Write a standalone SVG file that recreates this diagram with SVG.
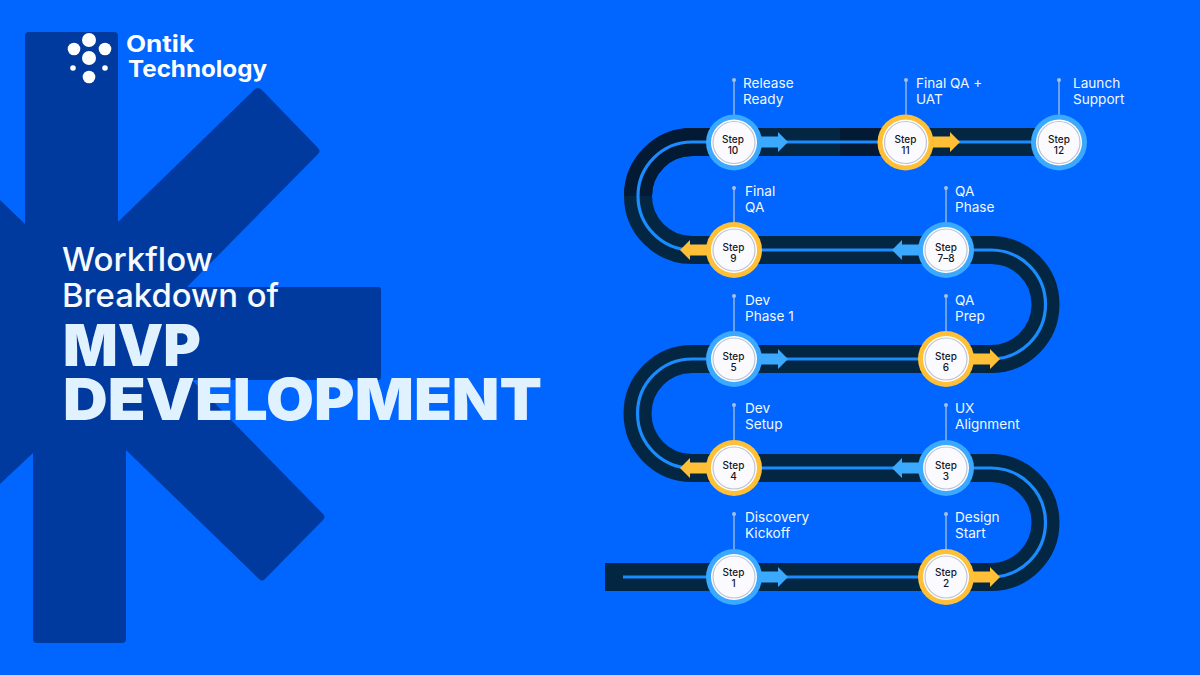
<svg xmlns="http://www.w3.org/2000/svg" xmlns:xlink="http://www.w3.org/1999/xlink" width="1200" height="675" viewBox="0 0 1200 675">
<style>
.road{fill:none;stroke:#032743;stroke-width:28}
.dark{fill:none;stroke:#021a33;stroke-width:28}
.line{fill:none;stroke:#1a8cff;stroke-width:3.2}
.lbl{font:400 13.6px Inter,"Open Sans",sans-serif;fill:#f2f8ff}
.st{font:500 10px Inter,"Open Sans",sans-serif;fill:#16161e;text-anchor:middle}
.pin{stroke:#8fb4ea;stroke-width:1.5}
.dot{fill:#a9c0e2}
.w{fill:#fff}
.ring{fill:#fbfbff;stroke:#bcc3d2;stroke-width:1.2}
.ttl{font:500 32px Inter,"Open Sans",sans-serif;fill:#f6faff}
.big{font:900 58px Inter,"Open Sans",sans-serif;fill:#e0f1ff}
.logo{font:700 23px Inter,"Open Sans",sans-serif;fill:#fff}
</style>
<defs>
<g id="b"><circle r="28" fill="#3aa9ff"/></g>
<g id="y"><circle r="28" fill="#ffc038"/></g>
<g id="c"><circle r="23" class="w"/><circle r="21" class="ring"/></g>
<path id="ar" d="M0-5.500H17V-10L27 0L17 10V5.500H0Z"/>
</defs>
<rect width="1200" height="675" fill="#0066ff"/>
<path id="bg-k" d="M25 36Q25 32 29 32H114Q118 32 118 36V222L254 90Q258 86 262 90L318 148Q321 151 318 154L187 287H378Q381 287 381 290V377Q381 380 378 380H192L323 514Q326 517 323 520L265 579Q262 582 259 579L126 450V639Q126 643 122 643H37Q33 643 33 639V453L0 484V200L25 224Z" fill="#003a9e"/>
<g id="connectors">
<path class="road" d="M605 577H991A54.500 54.500 0 0 0 991 468H692A54.500 54.500 0 0 1 692 359H991A54.500 54.500 0 0 0 991 250H692A54 54 0 0 1 692 142H1058"/>
<path class="dark" d="M638 196A54 54 0 0 1 692 142H760M840 142H885"/>
<path class="line" d="M623 577H991A54.500 54.500 0 0 0 991 468H692A54.500 54.500 0 0 1 692 359H991A54.500 54.500 0 0 0 991 250H692A54 54 0 0 1 692 142H1058"/>
<g fill="#3aa9ff">
<use href="#ar" x="761" y="577"/><use href="#ar" x="761" y="359"/><use href="#ar" x="761" y="142"/>
<use href="#ar" transform="translate(919 468) scale(-1 1)"/><use href="#ar" transform="translate(919 250) scale(-1 1)"/>
</g>
<g fill="#ffc038">
<use href="#ar" x="973" y="577"/><use href="#ar" x="973" y="359"/><use href="#ar" x="933" y="142"/>
<use href="#ar" transform="translate(707 468) scale(-1 1)"/><use href="#ar" transform="translate(707 250) scale(-1 1)"/>
</g>
</g>
<g id="title"><text class="ttl" x="62" y="271" textLength="151" lengthAdjust="spacingAndGlyphs">Workflow</text><text class="ttl" x="62" y="307" textLength="217" lengthAdjust="spacingAndGlyphs">Breakdown of</text><text class="big" x="63" y="366" textLength="138" lengthAdjust="spacingAndGlyphs">MVP</text><text class="big" x="63" y="420" textLength="479" lengthAdjust="spacingAndGlyphs">DEVELOPMENT</text></g>
<g id="logo" class="w"><circle cx="89" cy="40" r="7"/><circle cx="74" cy="49" r="6.300"/><circle cx="105" cy="49" r="6.300"/><circle cx="89" cy="58" r="7"/><circle cx="73" cy="68" r="2.800"/><circle cx="105" cy="68" r="2.800"/><circle cx="89" cy="77" r="6.300"/><text class="logo" x="126" y="52" textLength="68" lengthAdjust="spacingAndGlyphs">Ontik</text><text class="logo" x="128" y="77" textLength="139" lengthAdjust="spacingAndGlyphs">Technology</text></g>
<g id="step1"><line class="pin" x1="734" y1="514" x2="734" y2="555"/><circle class="dot" cx="734" cy="514" r="2"/><use href="#b" x="734" y="577"/><use href="#c" x="734" y="577"/><text class="st" x="733.500" y="576">Step</text><text class="st" x="733.500" y="587">1</text><text class="lbl" x="745" y="522">Discovery</text><text class="lbl" x="745" y="538">Kickoff</text></g>
<g id="step2"><line class="pin" x1="946" y1="514" x2="946" y2="555"/><circle class="dot" cx="946" cy="514" r="2"/><use href="#y" x="946" y="577"/><use href="#c" x="946" y="577"/><text class="st" x="946" y="576">Step</text><text class="st" x="946" y="587">2</text><text class="lbl" x="955" y="522">Design</text><text class="lbl" x="955" y="538">Start</text></g>
<g id="step3"><line class="pin" x1="946" y1="405" x2="946" y2="446"/><circle class="dot" cx="946" cy="405" r="2"/><use href="#b" x="946" y="468"/><use href="#c" x="946" y="468"/><text class="st" x="946" y="469">Step</text><text class="st" x="946" y="480">3</text><text class="lbl" x="955" y="413">UX</text><text class="lbl" x="955" y="429">Alignment</text></g>
<g id="step4"><line class="pin" x1="734" y1="405" x2="734" y2="446"/><circle class="dot" cx="734" cy="405" r="2"/><use href="#y" x="734" y="468"/><use href="#c" x="734" y="468"/><text class="st" x="733.500" y="469">Step</text><text class="st" x="733.500" y="480">4</text><text class="lbl" x="745" y="413">Dev</text><text class="lbl" x="745" y="429">Setup</text></g>
<g id="step5"><line class="pin" x1="734" y1="296" x2="734" y2="337"/><circle class="dot" cx="734" cy="296" r="2"/><use href="#b" x="734" y="359"/><use href="#c" x="734" y="359"/><text class="st" x="733.500" y="360">Step</text><text class="st" x="733.500" y="371">5</text><text class="lbl" x="745" y="305">Dev</text><text class="lbl" x="745" y="321">Phase 1</text></g>
<g id="step6"><line class="pin" x1="946" y1="296" x2="946" y2="337"/><circle class="dot" cx="946" cy="296" r="2"/><use href="#y" x="946" y="359"/><use href="#c" x="946" y="359"/><text class="st" x="946" y="360">Step</text><text class="st" x="946" y="371">6</text><text class="lbl" x="955" y="305">QA</text><text class="lbl" x="955" y="321">Prep</text></g>
<g id="step7-8"><line class="pin" x1="946" y1="188" x2="946" y2="229"/><circle class="dot" cx="946" cy="188" r="2"/><use href="#b" x="946" y="250"/><use href="#c" x="946" y="250"/><text class="st" x="946" y="251">Step</text><text class="st" x="946" y="262">7–8</text><text class="lbl" x="955" y="196">QA</text><text class="lbl" x="955" y="212">Phase</text></g>
<g id="step9"><line class="pin" x1="734" y1="188" x2="734" y2="229"/><circle class="dot" cx="734" cy="188" r="2"/><use href="#y" x="734" y="250"/><use href="#c" x="734" y="250"/><text class="st" x="733.500" y="251">Step</text><text class="st" x="733.500" y="262">9</text><text class="lbl" x="745" y="196">Final</text><text class="lbl" x="745" y="212">QA</text></g>
<g id="step10"><line class="pin" x1="734" y1="80" x2="734" y2="120"/><circle class="dot" cx="734" cy="80" r="2"/><use href="#b" x="734" y="142.500"/><use href="#c" x="734" y="142.500"/><text class="st" x="733" y="143">Step</text><text class="st" x="733" y="154">10</text><text class="lbl" x="743" y="88">Release</text><text class="lbl" x="743" y="104">Ready</text></g>
<g id="step11"><line class="pin" x1="906" y1="80" x2="906" y2="120"/><circle class="dot" cx="906" cy="80" r="2"/><use href="#y" x="905.500" y="142.500"/><use href="#c" x="905.500" y="142.500"/><text class="st" x="905.500" y="143">Step</text><text class="st" x="905.500" y="154">11</text><text class="lbl" x="916" y="88">Final QA +</text><text class="lbl" x="916" y="104">UAT</text></g>
<g id="step12"><line class="pin" x1="1059" y1="80" x2="1059" y2="120"/><circle class="dot" cx="1059" cy="80" r="2"/><use href="#b" x="1059" y="142.500"/><use href="#c" x="1059" y="142.500"/><text class="st" x="1059" y="143">Step</text><text class="st" x="1059" y="154">12</text><text class="lbl" x="1073" y="88">Launch</text><text class="lbl" x="1073" y="104">Support</text></g>
</svg>
